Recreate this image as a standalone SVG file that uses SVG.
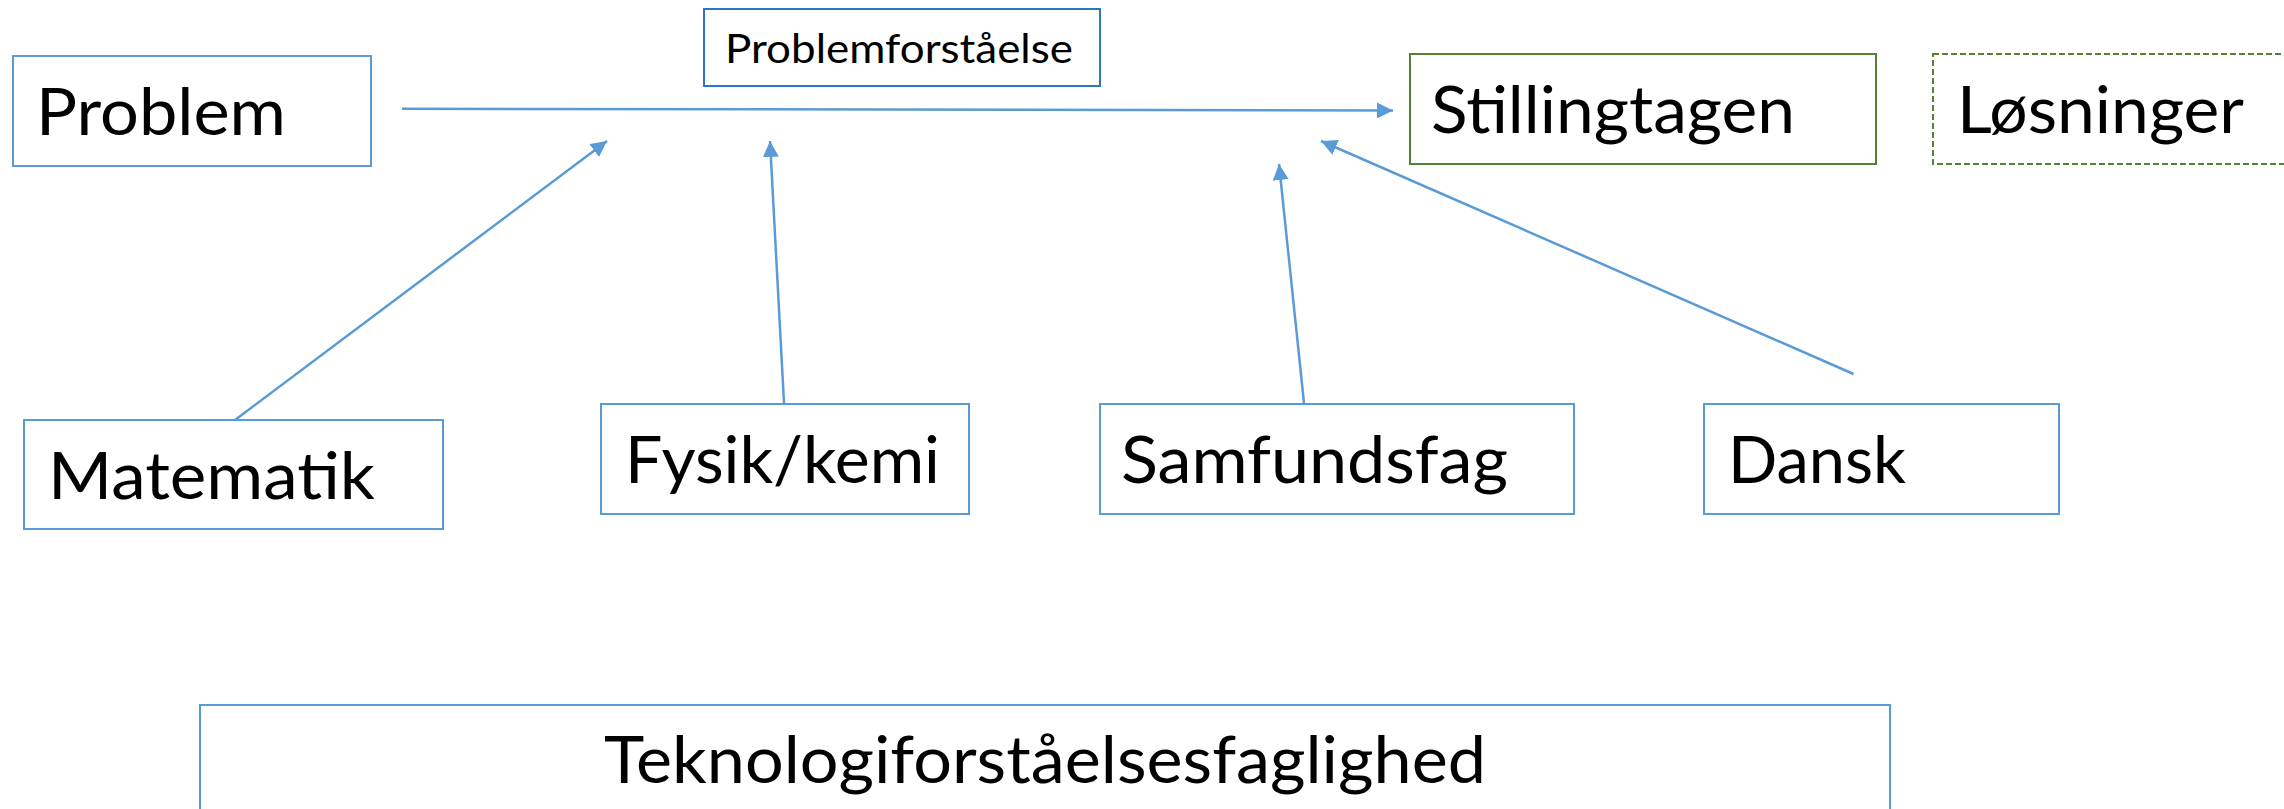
<svg xmlns="http://www.w3.org/2000/svg" width="2284" height="809" viewBox="0 0 2284 809">
  <style>
    .box { fill: #ffffff; stroke: #5B9BD5; stroke-width: 2; }
    .boxdark { fill: #ffffff; stroke: #2E75C6; stroke-width: 2; }
    .green { fill: #ffffff; stroke: #548235; stroke-width: 2; }
    .greendash { fill: #ffffff; stroke: #548235; stroke-width: 2; stroke-dasharray: 6 3; }
    .big { font-family: Lato, "Open Sans", "Liberation Sans", sans-serif; font-size: 66px; fill: #000000; }
    .small { font-family: Lato, "Open Sans", "Liberation Sans", sans-serif; font-size: 40px; fill: #000000; }
    .conn { stroke: #5B9BD5; stroke-width: 2.5; fill: none; marker-end: url(#arrow); }
  </style>
  <defs>
    <marker id="arrow" markerUnits="userSpaceOnUse" markerWidth="16" markerHeight="16" refX="16" refY="8" orient="auto" viewBox="0 0 16 16">
      <path d="M0,0 L16,8 L0,16 z" fill="#5B9BD5"/>
    </marker>
  </defs>
  <rect width="2284" height="809" fill="#ffffff"/>

  <g id="node-problem">
    <rect class="box" x="13" y="56" width="358" height="110"/>
    <text class="big" x="36" y="135" textLength="250" lengthAdjust="spacingAndGlyphs">Problem</text>
  </g>
  <g id="node-problemforstaaelse">
    <rect class="boxdark" x="704" y="9" width="396" height="77"/>
    <text class="small" x="725" y="63" textLength="348" lengthAdjust="spacingAndGlyphs">Problemforståelse</text>
  </g>
  <g id="node-stillingtagen">
    <rect class="green" x="1410" y="54" width="466" height="110"/>
    <text class="big" x="1431" y="133" textLength="364" lengthAdjust="spacingAndGlyphs">Stillingtagen</text>
  </g>
  <g id="node-loesninger">
    <rect class="greendash" x="1933" y="54" width="400" height="110"/>
    <text class="big" x="1957" y="133" textLength="287" lengthAdjust="spacingAndGlyphs">Løsninger</text>
  </g>
  <g id="node-matematik">
    <rect class="box" x="24" y="420" width="419" height="109"/>
    <text class="big" x="48" y="499" textLength="327" lengthAdjust="spacingAndGlyphs">Matematik</text>
  </g>
  <g id="node-fysik">
    <rect class="box" x="601" y="404" width="368" height="110"/>
    <text class="big" x="625" y="483" textLength="315" lengthAdjust="spacingAndGlyphs">Fysik/kemi</text>
  </g>
  <g id="node-samfundsfag">
    <rect class="box" x="1100" y="404" width="474" height="110"/>
    <text class="big" x="1121" y="483" textLength="387" lengthAdjust="spacingAndGlyphs">Samfundsfag</text>
  </g>
  <g id="node-dansk">
    <rect class="box" x="1704" y="404" width="355" height="110"/>
    <text class="big" x="1728" y="483" textLength="178" lengthAdjust="spacingAndGlyphs">Dansk</text>
  </g>
  <g id="node-teknologi">
    <rect class="box" x="200" y="705" width="1690" height="200"/>
    <text class="big" x="604" y="783" textLength="882" lengthAdjust="spacingAndGlyphs">Teknologiforståelsesfaglighed</text>
  </g>

  <g id="connectors">
    <line class="conn" x1="402" y1="108.7" x2="1393" y2="110.5"/>
    <line class="conn" x1="235" y1="420" x2="607" y2="141"/>
    <line class="conn" x1="784" y1="403" x2="770" y2="141"/>
    <line class="conn" x1="1304" y1="403" x2="1279" y2="164"/>
    <line class="conn" x1="1853.5" y1="374" x2="1321" y2="141"/>
  </g>
</svg>
